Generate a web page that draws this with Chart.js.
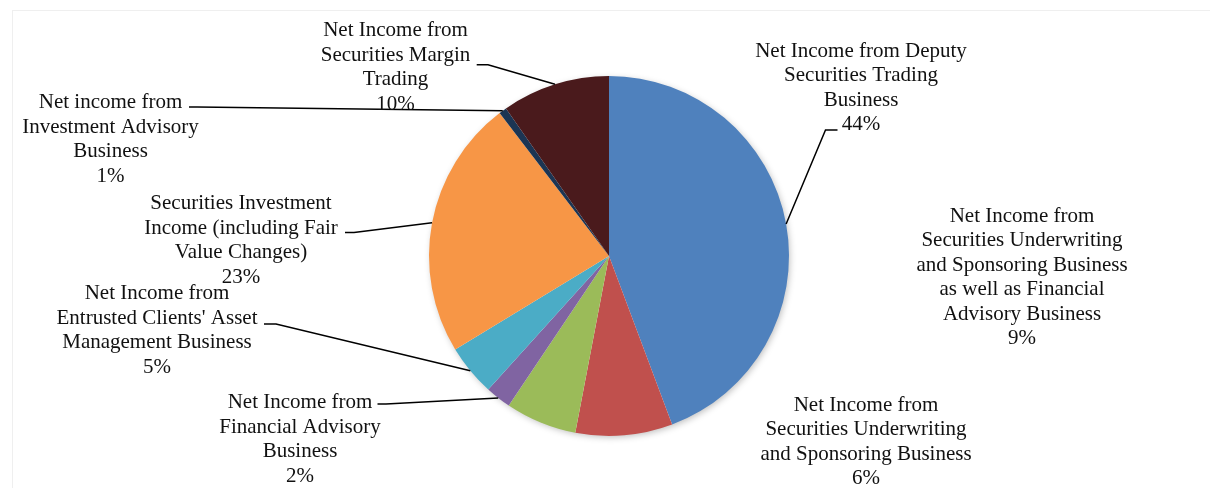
<!DOCTYPE html>
<html>
<head>
<meta charset="utf-8">
<script src="https://cdn.jsdelivr.net/npm/chart.js@4/dist/chart.umd.min.js"></script>
<style>
  body { margin: 0; background: #fff; }
  #wrap { position: relative; width: 1210px; height: 488px; }
  #frame { position: absolute; left: 12px; top: 10px; right: 0; bottom: 0;
           border-top: 1px solid #efefef; border-left: 1px solid #efefef; }
</style>
</head>
<body>
<div id="wrap">
  <div id="frame"></div>
  <canvas id="income-chart"></canvas>
</div>
<script>
// categories, each split into the lines shown in the picture
const categories = [
    ['Net Income from Deputy', 'Securities Trading', 'Business'],
    ['Net Income from', 'Securities Underwriting', 'and Sponsoring Business', 'as well as Financial', 'Advisory Business'],
    ['Net Income from', 'Securities Underwriting', 'and Sponsoring Business'],
    ['Net Income from', 'Financial Advisory', 'Business'],
    ['Net Income from', "Entrusted Clients' Asset", 'Management Business'],
    ['Securities Investment', 'Income (including Fair', 'Value Changes)'],
    ['Net income from', 'Investment Advisory', 'Business'],
    ['Net Income from', 'Securities Margin', 'Trading']
];
const shares = [44.3, 8.7, 6.4, 2.3, 4.6, 23.3, 0.7, 9.7];
const sliceColors = ['#4F81BD', '#C0504D', '#9BBB59', '#8064A2', '#4BACC6', '#F79646', '#1C3553', '#4A1A1C'];

// label placement relative to the pie centre: text centre x, first baseline y,
// leader stub end (x, y) and elbow x (null = no leader line)
const labelPlaces = [
    { dx: 252, by: -199.3, stub: [228.5, -126, 216.5] },
    { dx: 413, by: -34.5, stub: null },
    { dx: 257, by: 154.5, stub: null },
    { dx: -309, by: 152, stub: [-231.5, 148, -223] },
    { dx: -452, by: 43.3, stub: [-345, 68, -333] },
    { dx: -368, by: -46.7, stub: [-264, -23.5, -255] },
    { dx: -498.5, by: -147.7, stub: [-420, -149, -412] },
    { dx: -213.5, by: -220, stub: [-132.3, -191.3, -121] }
];
const lineGap = 24.5;

const total = shares.reduce((a, b) => a + b, 0);

// soft shadow behind the pie
const pieShadow = {
    id: 'pieShadow',
    beforeDatasetsDraw(chart) {
        const arc = chart.getDatasetMeta(0).data[0];
        const ctx = chart.ctx;
        ctx.save();
        ctx.shadowColor = 'rgba(0,0,0,0.28)';
        ctx.shadowBlur = 7;
        ctx.shadowOffsetX = 1.5;
        ctx.shadowOffsetY = 2;
        ctx.fillStyle = '#fff';
        ctx.beginPath();
        ctx.arc(arc.x, arc.y, arc.outerRadius - 1, 0, Math.PI * 2);
        ctx.fill();
        ctx.restore();
    }
};

// category name + percentage, with leader lines
const outsideLabels = {
    id: 'outsideLabels',
    afterDatasetsDraw(chart) {
        const ctx = chart.ctx;
        const meta = chart.getDatasetMeta(0);
        ctx.save();
        ctx.font = '21px "Liberation Serif", "Times New Roman", serif';
        ctx.fillStyle = '#111';
        ctx.textAlign = 'center';
        ctx.textBaseline = 'alphabetic';
        ctx.strokeStyle = '#000';
        ctx.lineWidth = 1.5;
        meta.data.forEach((arc, i) => {
            const cx = arc.x, cy = arc.y;
            const place = labelPlaces[i];
            const lines = categories[i].concat([Math.round(shares[i] / total * 100) + '%']);
            lines.forEach((t, j) => {
                ctx.fillText(t, cx + place.dx, cy + place.by + j * lineGap);
            });
            if (place.stub) {
                const mid = (arc.startAngle + arc.endAngle) / 2;
                const ex = cx + Math.cos(mid) * arc.outerRadius;
                const ey = cy + Math.sin(mid) * arc.outerRadius;
                ctx.beginPath();
                ctx.moveTo(cx + place.stub[0], cy + place.stub[1]);
                ctx.lineTo(cx + place.stub[2], cy + place.stub[1]);
                ctx.lineTo(ex, ey);
                ctx.stroke();
            }
        });
        ctx.restore();
    }
};

var ctx = document.getElementById('income-chart').getContext('2d');

new Chart(ctx, {
    type: 'pie',
    data: {
        labels: categories,
        datasets: [{
            data: shares,
            backgroundColor: sliceColors,
            borderWidth: 0
        }]
    },
    options: {
        responsive: true,
        maintainAspectRatio: false,
        animation: false,
        layout: {
            padding: { left: 429, right: 421, top: 76, bottom: 52 }
        },
        plugins: {
            legend: { display: false },
            tooltip: { enabled: false }
        }
    },
    plugins: [pieShadow, outsideLabels]
});
</script>
</body>
</html>
